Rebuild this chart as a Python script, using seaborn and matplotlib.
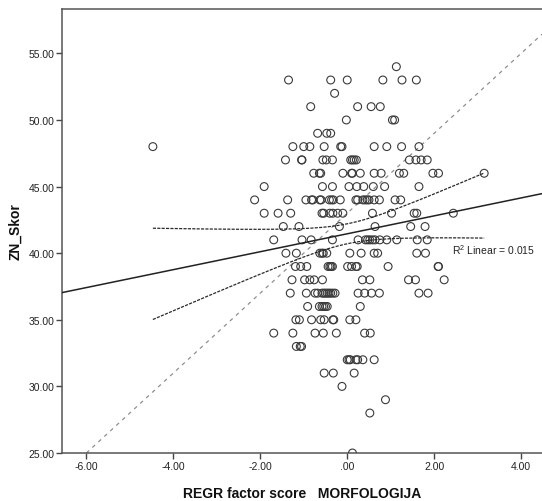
import numpy as np
import pandas as pd
import matplotlib
matplotlib.use("Agg")
import matplotlib.pyplot as plt
import seaborn as sns

# ---- data: x values (factor scores) per integer score ----
row_54 = [1.13]
row_53 = [-1.35, -0.38, 0.00, 0.82, 1.26, 1.59]
row_52 = [-0.29]
row_51 = [-0.84, 0.24, 0.55, 0.76]
row_50 = [-0.02, 1.04, 1.09]
row_49 = [-0.68, -0.47, -0.38]
row_48 = [-4.47, -1.25, -1.00, -0.86, -0.53, -0.15, -0.12, 0.62, 0.91, 1.25, 1.65]
row_47 = [-1.42, -1.05, -1.04, -0.56, -0.48, -0.34, 0.08, 0.12, 0.16, 0.21, 1.43, 1.58, 1.70, 1.84]
row_46 = [-0.77, -0.64, -0.61, -0.10, 0.10, 0.12, 0.30, 0.62, 0.78, 1.20, 1.30, 1.97, 2.10, 3.15]
row_45 = [-1.91, -0.57, -0.34, 0.04, 0.22, 0.38, 0.60, 0.86, 1.65]
row_44 = [-2.13, -1.37, -0.95, -0.82, -0.79, -0.63, -0.60, -0.41, -0.36, -0.32, -0.16,
          0.20, 0.24, 0.36, 0.41, 0.46, 0.50, 0.62, 0.74, 1.10, 1.23]
row_43 = [-1.91, -1.59, -1.30, -0.58, -0.54, -0.40, -0.33, -0.22, -0.10, 0.58, 1.02, 1.54, 1.60, 2.44]
row_42 = [-1.47, -1.11, -0.18, 0.64, 1.46, 1.79]
row_41 = [-1.69, -1.04, -0.83, -0.34, 0.25, 0.42, 0.47, 0.52, 0.58, 0.64, 0.75, 0.91, 1.14, 1.61, 1.84]
row_40 = [-1.41, -1.17, -0.63, -0.58, -0.55, -0.47, 0.06, 0.32, 0.62, 0.70, 1.60, 1.80]
row_39 = [-1.19, -1.07, -0.93, -0.44, -0.40, -0.37, -0.34, 0.01, 0.10, 0.20, 0.23, 0.94, 2.09, 2.10]
row_38 = [-1.27, -0.98, -0.86, -0.76, -0.57, 0.35, 0.52, 1.41, 1.57, 2.23]
row_37 = [-1.31, -0.94, -0.74, -0.68, -0.58, -0.54, -0.50, -0.46, -0.42, -0.38, -0.33, -0.28,
          0.25, 0.40, 0.56, 0.74, 1.65, 1.86]
row_36 = [-0.91, -0.64, -0.58, -0.54, -0.50, -0.46, 0.30]
row_35 = [-1.18, -1.10, -0.82, -0.61, -0.53, -0.33, -0.31, 0.06, 0.20]
row_34 = [-1.69, -1.25, -0.74, -0.55, -0.25, 0.40, 0.53]
row_33 = [-1.17, -1.08, -1.05]
row_32 = [0.00, 0.04, 0.07, 0.20, 0.24, 0.36, 0.62]
row_31 = [-0.53, -0.32, 0.16]
row_30 = [-0.12]
row_29 = [0.88]
row_28 = [0.52]
row_25 = [0.12]

rows = {54: row_54, 53: row_53, 52: row_52, 51: row_51, 50: row_50, 49: row_49,
        48: row_48, 47: row_47, 46: row_46, 45: row_45, 44: row_44, 43: row_43,
        42: row_42, 41: row_41, 40: row_40, 39: row_39, 38: row_38, 37: row_37,
        36: row_36, 35: row_35, 34: row_34, 33: row_33, 32: row_32, 31: row_31,
        30: row_30, 29: row_29, 28: row_28, 25: row_25}

x_ticks = [-6, -4, -2, 0, 2, 4]
x_tick_labels = ["-6.00", "-4.00", "-2.00", ".00", "2.00", "4.00"]
y_ticks = [25, 30, 35, 40, 45, 50, 55]
y_tick_labels = ["25.00", "30.00", "35.00", "40.00", "45.00", "50.00", "55.00"]

# reference diagonal (grey dashed)
ref_point = (-6.0, 25.0)
ref_slope = 3.0
r2_text = "R$^{2}$ Linear = 0.015"

x_label = "REGR factor score   MORFOLOGIJA"
y_label = "ZN_Skor"

df = pd.DataFrame([(x, y) for y, xs in rows.items() for x in xs], columns=["x", "y"])

# ---- linear fit and 95% CI of mean prediction ----
n = len(df)
slope, intercept = np.polyfit(df["x"], df["y"], 1)
resid = df["y"] - (intercept + slope * df["x"])
s = np.sqrt((resid ** 2).sum() / (n - 2))
xbar = df["x"].mean()
sxx = ((df["x"] - xbar) ** 2).sum()
t_crit = 1.971
xg = np.linspace(df["x"].min(), df["x"].max(), 200)
yg = intercept + slope * xg
half = t_crit * s * np.sqrt(1.0 / n + (xg - xbar) ** 2 / sxx)

# ---- figure ----
sns.set_theme(style="white")
plt.rcParams["font.family"] = ["Liberation Sans", "DejaVu Sans"]
plt.rcParams["mathtext.fontset"] = "custom"
plt.rcParams["mathtext.rm"] = "Liberation Sans"
plt.rcParams["mathtext.default"] = "regular"

fig = plt.figure(figsize=(5.42, 5.02), dpi=100)
ax = fig.add_axes([62 / 542, 48 / 502, 1 - 62 / 542, 444 / 502])

ax.axline(ref_point, slope=ref_slope, color="#8f8f8f", lw=0.9,
          linestyle=(0, (3, 3.5)), zorder=1)

sns.scatterplot(data=df, x="x", y="y", ax=ax, marker="o", s=32,
                facecolors="none", edgecolor="#3a3a3a", linewidth=0.8, zorder=3)

ax.axline((0, intercept), slope=slope, color="#222222", lw=1.1, zorder=4)
sns.lineplot(x=xg, y=yg + half, ax=ax, color="#2a2a2a", lw=0.9,
             linestyle=(0, (2.5, 1)), zorder=4)
sns.lineplot(x=xg, y=yg - half, ax=ax, color="#2a2a2a", lw=0.9,
             linestyle=(0, (2.5, 1)), zorder=4)

ax.text(2.41, 40.3, r2_text, fontsize=7.5, ha="left", va="center", color="#222222")

ax.set_xlim(-6.56, 4.48)
ax.set_ylim(25, 58.33)
ax.set_xticks(x_ticks)
ax.set_xticklabels(x_tick_labels)
ax.set_yticks(y_ticks)
ax.set_yticklabels(y_tick_labels)
ax.tick_params(axis="both", which="major", direction="out", length=4, width=1,
               color="#444444", labelsize=7.5, labelcolor="#222222", pad=1.5,
               bottom=True, left=True)

for side in ["left", "bottom", "top"]:
    ax.spines[side].set_visible(True)
    ax.spines[side].set_color("#555555")
    ax.spines[side].set_linewidth(1.1)
ax.spines["right"].set_visible(False)

ax.set_xlabel(x_label, fontsize=10, fontweight="bold", color="#111111", labelpad=11)
ax.set_ylabel(y_label, fontsize=10, fontweight="bold", color="#111111", labelpad=4)

fig.savefig("out.png", dpi=100, facecolor="white")
